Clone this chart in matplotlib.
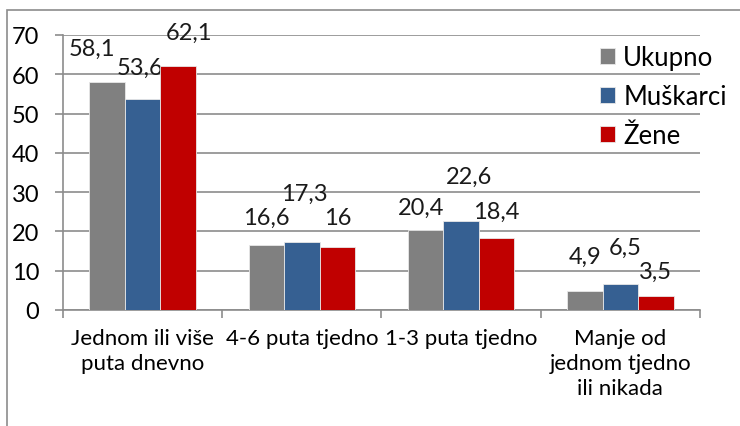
import matplotlib.pyplot as plt
import numpy as np

categories = ['Jednom ili više\nputa dnevno', '4-6 puta tjedno', '1-3 puta tjedno',
              'Manje od\njednom tjedno\nili nikada']
series = ['Ukupno', 'Muškarci', 'Žene']
ukupno = [58.1, 16.6, 20.4, 4.9]
muskarci = [53.6, 17.3, 22.6, 6.5]
zene = [62.1, 16.0, 18.4, 3.5]
colors = ['#808080', '#366092', '#C00000']

# manual label offsets (points) as in the original Excel chart
label_offsets = [
    [(-11, 24), (0, 19.5), (-3, 16.5), (0, 25)],
    [(-2, 23), (2, 35), (6, 32), (3.5, 27)],
    [(8, 24), (0, 21), (0, 19), (0, 18)],
]

plt.rcParams['font.family'] = ['Lato', 'DejaVu Sans']

fig = plt.figure(figsize=(7.4, 4.27), dpi=100)
ax = fig.add_axes([0.085, 0.2717, 0.861, 0.644])

x = np.arange(len(categories))
width = 0.223
data = [ukupno, muskarci, zene]
for i, (vals, name, col) in enumerate(zip(data, series, colors)):
    bars = ax.bar(x + (i - 1) * width, vals, width, color=col, label=name,
                  edgecolor='#e8e8e8', linewidth=0.6, zorder=3)
    for j, rect in enumerate(bars):
        h = rect.get_height()
        txt = f'{h:g}'.replace('.', ',')
        ax.annotate(txt, xy=(rect.get_x() + rect.get_width() / 2, h),
                    xytext=label_offsets[i][j], textcoords='offset points',
                    ha='center', va='center', fontsize=17, color='#1a1a1a')

ax.set_xlim(-0.5, len(categories) - 0.5)
ax.set_ylim(0, 70)
ax.set_yticks(range(0, 71, 10))
ax.set_xticks(x)
ax.set_xticklabels(categories, fontsize=16, linespacing=1.3)
ax.set_xticks(np.arange(-0.5, len(categories), 1), minor=True)
ax.tick_params(axis='x', which='major', length=0, pad=13)
ax.tick_params(axis='x', which='minor', length=6, color='#8c8c8c', width=1.2)
ax.tick_params(axis='y', length=6, color='#8c8c8c', width=1.2, pad=11, labelsize=17)
ax.yaxis.grid(True, color='#8c8c8c', linewidth=1.2, zorder=0)
ax.set_axisbelow(True)
for s in ['top', 'right']:
    ax.spines[s].set_visible(False)
for s in ['left', 'bottom']:
    ax.spines[s].set_color('#8c8c8c')
    ax.spines[s].set_linewidth(1.2)

fig.legend(loc='upper left', bbox_to_anchor=(600 / 740, 1 - 46 / 427), frameon=False,
           fontsize=18.5, handlelength=0.6, handleheight=0.6, handletextpad=0.3,
           labelspacing=0.55, borderpad=0, borderaxespad=0)

# outer chart border
fig.patches.append(plt.Rectangle((7 / 740, -0.1), 1.2, 1 - 11 / 427 + 0.1,
                                 transform=fig.transFigure, fill=False,
                                 edgecolor='#8c8c8c', linewidth=1.2))

fig.savefig('out.png', dpi=100)
